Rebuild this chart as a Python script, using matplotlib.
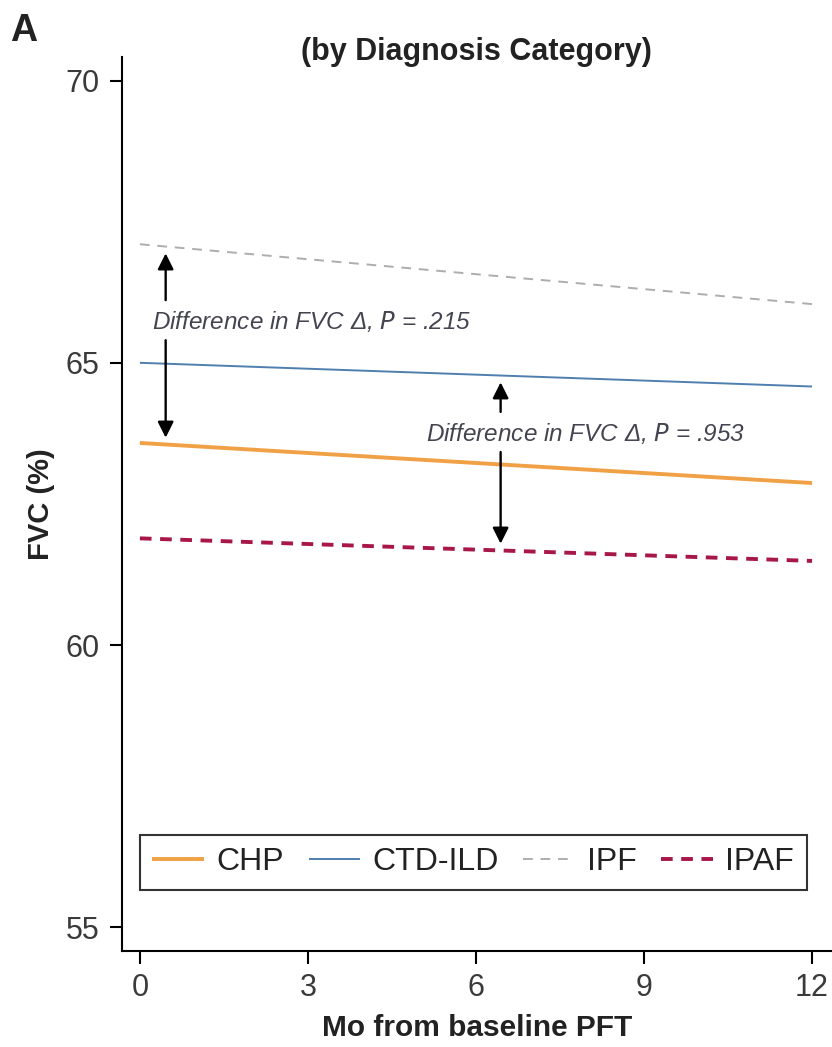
import matplotlib
matplotlib.use("Agg")
import matplotlib.pyplot as plt
import numpy as np

plt.rcParams['font.family'] = ['Liberation Sans', 'DejaVu Sans']

# months from baseline PFT and fitted FVC (%) per diagnosis group
months = [0, 12]
groups = ['CHP', 'CTD-ILD', 'IPF', 'IPAF']
fvc = {
    'CHP': [63.58, 62.87],
    'CTD-ILD': [65.0, 64.58],
    'IPF': [67.1, 66.04],
    'IPAF': [61.89, 61.49],
}
styles = {
    'CHP': dict(color='#F0A145', lw=2.8, ls='-'),
    'CTD-ILD': dict(color='#4F7FAF', lw=1.4, ls='-'),
    'IPF': dict(color='#ADADAD', lw=1.4, ls=(0, (5, 4))),
    'IPAF': dict(color='#A8174A', lw=2.8, ls=(0, (3, 2.2))),
}

# difference annotations: arrow x, text x, upper group, lower group, p value
diff_x = [0.46, 6.44]
diff_text_x = [0.22, 5.1]
diff_pairs = [('IPF', 'CHP'), ('CTD-ILD', 'IPAF')]
diff_text_y = [65.73, 63.75]
p_values = ['.215', '.953']

fig = plt.figure(figsize=(8.32, 10.47), dpi=100)
ax = fig.add_axes([0.1466, 0.0917, 0.853, 0.854])

for g in groups:
    ax.plot(months, fvc[g], label=g, solid_capstyle='butt', **styles[g])

def value_at(g, x):
    return np.interp(x, months, fvc[g])

for x, tx, (up, low), ty, p in zip(diff_x, diff_text_x, diff_pairs, diff_text_y, p_values):
    ax.text(tx, ty, 'Difference in FVC Δ, $\\it{P}$ = ' + p, fontsize=17.5,
            style='italic', color='#454552', va='center', ha='left')
    arrow = dict(arrowstyle='-|>', color='black', lw=1.7,
                 mutation_scale=24, shrinkA=0, shrinkB=0)
    ax.annotate('', xy=(x, value_at(up, x) - 0.12), xytext=(x, ty + 0.38),
                arrowprops=arrow)
    ax.annotate('', xy=(x, value_at(low, x) + 0.12), xytext=(x, ty - 0.33),
                arrowprops=arrow)

ax.set_xlim(-0.32, 12.35)
ax.set_ylim(54.58, 70.42)
ax.set_xticks([0, 3, 6, 9, 12])
ax.set_yticks([55, 60, 65, 70])
ax.spines['top'].set_visible(False)
ax.spines['right'].set_visible(False)
for s in ['left', 'bottom']:
    ax.spines[s].set_linewidth(1.5)
ax.tick_params(direction='out', length=9, width=1.5, labelsize=22,
               colors='black', labelcolor='#3a3a3a', pad=7)

ax.set_xlabel('Mo from baseline PFT', fontsize=21.5, fontweight='bold',
              color='#222222', labelpad=8)
ax.set_ylabel('FVC (%)', fontsize=21, fontweight='bold', color='#222222',
              labelpad=8)
fig.text(0.573, 0.950, '(by Diagnosis Category)', fontsize=22, fontweight='bold',
         color='#222222', ha='center', va='center')
fig.text(0.012, 0.970, 'A', fontsize=27, fontweight='bold', va='center',
         color='#222222')

leg = ax.legend(loc='lower left', bbox_to_anchor=(0.025, 0.068, 0.94, 0.1),
                mode='expand', ncol=4, fontsize=23, frameon=True, fancybox=False,
                handlelength=1.6, handletextpad=0.4, columnspacing=1.2,
                borderpad=0.4, borderaxespad=0)
leg.get_frame().set_edgecolor('black')
leg.get_frame().set_linewidth(1.5)
for t in leg.get_texts():
    t.set_color('#222222')

fig.savefig('out.png', dpi=100)
